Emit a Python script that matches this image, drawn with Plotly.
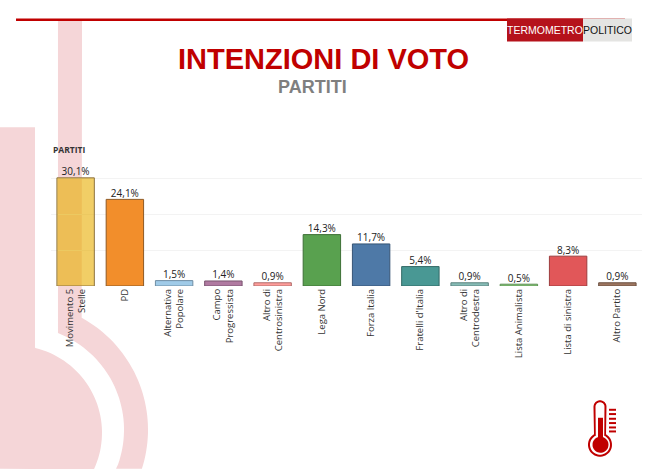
import numpy as np
import plotly.graph_objects as go

partiti = ['Movimento 5<br>Stelle', 'PD', 'Alternativa<br>Popolare', 'Campo<br>Progressista',
           'Altro di<br>Centrosinistra', 'Lega Nord', 'Forza Italia', "Fratelli d'Italia",
           'Altro di<br>Centrodestra', 'Lista Animalista', 'Lista di sinistra', 'Altro Partito']
valori = [30.1, 24.1, 1.5, 1.4, 0.9, 14.3, 11.7, 5.4, 0.9, 0.5, 8.3, 0.9]
colori = ['rgba(232,173,0,0.6)', '#F28E2B', '#A0CBE8', '#B07AA1', '#FF9D9A', '#59A14F',
          '#4E79A7', '#499894', '#86BCB6', '#8CD17D', '#E15759', '#9D7660']
bordi = ['#8F7440', '#8F5A24', '#6F8DA3', '#7A5570', '#B06E6C', '#3E7037',
         '#365475', '#336A67', '#5D8380', '#5F8F55', '#9D3D3E', '#6E5243']
griglia = [0, 10, 20, 30]

W, H = 645, 469
# area del grafico in pixel
LEFT, RIGHT, TOP, BOTTOM = 51, 642, 170.8, 286
ROSA = '#F5D6D8'
ROSSO = '#C00000'


def px(x):
    return (x - LEFT) / (RIGHT - LEFT)


def py(y):
    return (BOTTOM - y) / (BOTTOM - TOP)


def path(punti):
    return 'M ' + ' L '.join(f'{px(x):.4f},{py(y):.4f}' for x, y in punti) + ' Z'


def arco(cx, cy, r, da, a, n=40):
    ang = np.radians(np.linspace(da, a, n))
    return [(cx + r * np.cos(t), cy + r * np.sin(t)) for t in ang]


def forma(punti, colore, layer='below'):
    return dict(type='path', xref='paper', yref='paper', path=path(punti), fillcolor=colore,
                line=dict(width=0), layer=layer)


def rett(x0, y0, x1, y1, colore, layer='below'):
    return forma([(x0, y0), (x1, y0), (x1, y1), (x0, y1)], colore, layer)


def testo(x, y, s, size, colore, font='Liberation Sans', anchor='center', bold=False):
    return dict(xref='paper', yref='paper', x=px(x), y=py(y), text=f'<b>{s}</b>' if bold else s,
                showarrow=False, xanchor=anchor, yanchor='middle',
                font=dict(family=font, size=size, color=colore))


shapes = []
# termometro di sfondo: tubo + anello
anello = [(58, 20)] + arco(20, 430, 104, -68.6, 21.8)[:-1] + [(116, 469), (142, 469)] \
    + arco(20, 430, 128, 17.7, -61.2) + [(82, 20)]
shapes.append(forma(anello, ROSA))
# blocco a sinistra + bulbo
bulbo = [(0, 127), (35, 127), (35, 347)] + arco(14.6, 433, 87.4, -76.3, 25) + [(0, 469)]
shapes.append(forma(bulbo, ROSA))

# linea rossa in alto e logo
shapes.append(rett(16, 18, 625, 20.5, ROSSO, 'above'))
shapes.append(rett(507, 18, 583, 41, '#B5121B', 'above'))
shapes.append(rett(583, 18, 632, 41, '#E4E4E2', 'above'))

# termometro in basso a destra
shapes.append(forma(arco(600, 407, 6.5, 180, 360) + arco(600, 445, 12, -60, 240), ROSSO, 'above'))
shapes.append(forma(arco(600, 407, 4.5, 180, 360) + arco(600, 445, 10, -65, 245), 'white', 'above'))
shapes.append(forma(arco(600.5, 445, 8, 0, 360), ROSSO, 'above'))
shapes.append(rett(598, 418, 603, 440, ROSSO, 'above'))
for y_t in [410, 414.3, 419, 423.3, 427.7, 431.7]:
    shapes.append(rett(609, y_t - 1, 616, y_t + 1, ROSSO, 'above'))

fig = go.Figure()
fig.add_trace(go.Bar(
    x=partiti,
    y=valori,
    marker=dict(color=colori, line=dict(color=bordi, width=1)),
    hoverinfo='skip',
))
# etichette con una traccia di testo: stanno piu vicine alla barra
fig.add_trace(go.Scatter(
    x=partiti,
    y=valori,
    mode='text',
    texttemplate='%{y:.1f}%',
    textposition='top center',
    cliponaxis=False,
    textfont=dict(family='Open Sans', size=10, color='#222222'),
    hoverinfo='skip',
))

fig.update_layout(
    width=W, height=H,
    margin=dict(l=LEFT, r=W - RIGHT, t=TOP, b=H - BOTTOM, pad=0),
    paper_bgcolor='white',
    plot_bgcolor='rgba(0,0,0,0)',
    separators=',.',
    bargap=0.24,
    showlegend=False,
    shapes=shapes,
    annotations=[
        testo(323, 59, 'INTENZIONI DI VOTO', 29, '#C00000', bold=True),
        testo(312, 87, 'PARTITI', 18, '#7F7F7F', bold=True),
        testo(51, 149, 'PARTITI', 8.5, '#333333', font='Open Sans', anchor='left', bold=True),
        testo(545, 30, 'TERMOMETRO', 10.5, 'white'),
        testo(607.5, 30, 'POLITICO', 10.5, '#111111'),
    ],
    xaxis=dict(range=[-0.5, 11.5], tickangle=-90, showgrid=False, showline=False, ticks='',
               automargin=False, tickfont=dict(family='Open Sans', size=9.5, color='#333333')),
    yaxis=dict(range=[0, 32], tickvals=griglia, showticklabels=False, gridcolor='#F3F3F3',
               gridwidth=1, zeroline=False, automargin=False),
)

fig.write_html('out.html', config=dict(displayModeBar=False),
               post_script="document.body.style.margin='0';document.body.style.overflow='hidden';")
